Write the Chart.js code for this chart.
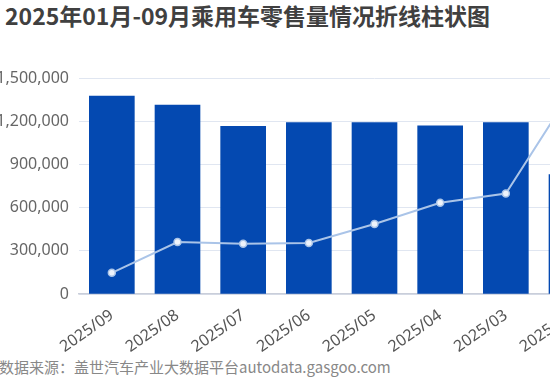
<!DOCTYPE html>
<html>
<head>
<meta charset="utf-8">
<script src="https://cdn.jsdelivr.net/npm/chart.js@4"></script>
<style>
  html, body { margin: 0; padding: 0; background: #fff; }
  .page { position: relative; width: 550px; height: 378px; overflow: hidden; }
  .title { position: absolute; left: 5px; top: 2px; font: bold 23px/26px "Noto Sans CJK SC", sans-serif; color: #404040; white-space: nowrap; }
  .source { position: absolute; left: -1px; top: 358px; font: 15px/18px "Noto Sans CJK SC", sans-serif; color: #888; white-space: nowrap; }
  .wrap { position: absolute; left: -8px; top: 58px; width: 700px; height: 296px; }
</style>
</head>
<body>
<div class="page">
  <div class="title">2025年01月-09月乘用车零售量情况折线柱状图</div>
  <div class="wrap"><canvas id="salesChart" width="700" height="296"></canvas></div>
  <div class="source">数据来源：盖世汽车产业大数据平台autodata.gasgoo.com</div>
</div>
<script>
const months = ['2025/09', '2025/08', '2025/07', '2025/06', '2025/05', '2025/04', '2025/03', '2025/02', '2025/01'];
const barValues = [1374000, 1312000, 1165000, 1191000, 1191000, 1167000, 1191000, 830000, 1150000];
const lineValues = [147000, 361000, 349000, 354000, 486000, 633000, 698000, 1410000, 1050000];
const yTicks = [0, 300000, 600000, 900000, 1200000, 1500000];

const ctx = document.getElementById('salesChart');
new Chart(ctx, {
    type: 'bar',
    data: {
        labels: months,
        datasets: [
            {
                type: 'line',
                data: lineValues,
                borderColor: '#aac4e8',
                borderWidth: 2,
                pointRadius: 3.5,
                pointBackgroundColor: '#eef3fb',
                pointBorderColor: '#aac4e8',
                pointBorderWidth: 1.5,
                tension: 0,
                order: 0,
            },
            {
                data: barValues,
                backgroundColor: '#0449b1',
                barThickness: 45,
                order: 1,
            }
        ]
    },
    options: {
        responsive: false,
        animation: false,
        layout: { padding: { top: 20, right: 22, left: 0, bottom: 0 } },
        plugins: { legend: { display: false }, tooltip: { enabled: false } },
        scales: {
            x: {
                grid: { display: false, drawTicks: false },
                border: { color: '#c9ceda', width: 1.5 },
                ticks: {
                    color: '#555',
                    font: { family: '"Noto Sans", sans-serif', size: 16 },
                    minRotation: 35,
                    maxRotation: 35,
                    padding: 12,
                },
                afterFit: s => { s.height = 60; },
            },
            y: {
                min: 0,
                max: 1500000,
                afterBuildTicks: s => { s.ticks = yTicks.map(v => ({ value: v })); },
                grid: { color: '#e0e6f1', drawTicks: false },
                border: { display: false },
                ticks: {
                    color: '#666',
                    font: { family: '"Noto Sans", sans-serif', size: 16 },
                    padding: 10,
                    callback: v => v.toLocaleString('en-US'),
                },
                afterFit: s => { s.width = 87; },
            }
        }
    }
});
</script>
</body>
</html>
